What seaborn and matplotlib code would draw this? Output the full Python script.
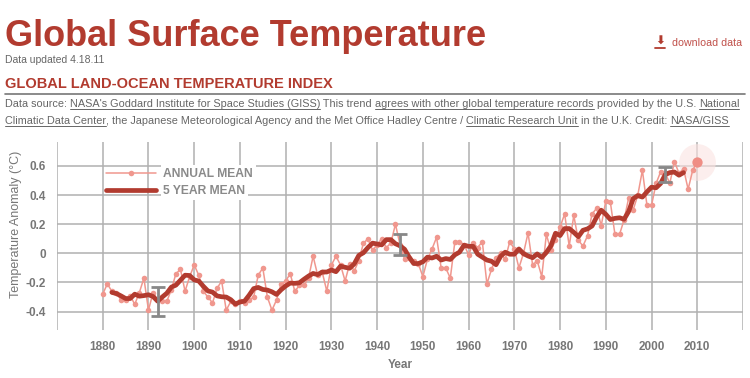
import numpy as np
import pandas as pd
import seaborn as sns
import matplotlib.pyplot as plt

# GISS land-ocean index, annual mean anomaly (deg C)
years = list(range(1880, 2011))
annual_mean = [
    -0.28, -0.21, -0.26, -0.27, -0.32, -0.32, -0.29, -0.35, -0.27, -0.17,
    -0.39, -0.27, -0.32, -0.33, -0.33, -0.25, -0.14, -0.11, -0.26, -0.16,
    -0.08, -0.15, -0.26, -0.30, -0.34, -0.24, -0.19, -0.39, -0.33, -0.35,
    -0.33, -0.34, -0.32, -0.30, -0.15, -0.10, -0.30, -0.39, -0.32, -0.21,
    -0.19, -0.14, -0.26, -0.22, -0.22, -0.17, -0.02, -0.15, -0.13, -0.26,
    -0.08, -0.02, -0.08, -0.19, -0.07, -0.12, -0.05, 0.07, 0.10, 0.02,
    0.06, 0.10, 0.04, 0.07, 0.20, 0.06, -0.04, -0.03, -0.05, -0.07,
    -0.16, -0.04, 0.03, 0.11, -0.10, -0.10, -0.17, 0.08, 0.08, 0.06,
    -0.01, 0.07, 0.04, 0.08, -0.21, -0.11, -0.03, 0.00, -0.04, 0.08,
    0.03, -0.10, 0.00, 0.14, -0.08, -0.05, -0.16, 0.13, 0.02, 0.09,
    0.18, 0.27, 0.05, 0.26, 0.09, 0.05, 0.12, 0.27, 0.31, 0.19,
    0.36, 0.35, 0.13, 0.13, 0.23, 0.38, 0.30, 0.40, 0.57, 0.33,
    0.33, 0.48, 0.56, 0.55, 0.48, 0.63, 0.55, 0.58, 0.44, 0.57,
    0.63,
]

# 5 year mean, 1882-2007
smooth_years = list(range(1882, 2008))
five_year_mean = [
    -0.268, -0.276, -0.292, -0.310, -0.310, -0.280, -0.294, -0.290,
    -0.284, -0.296, -0.328, -0.300, -0.274, -0.232, -0.218, -0.184, -0.150, -0.152,
    -0.182, -0.190, -0.226, -0.258, -0.266, -0.292, -0.298, -0.300, -0.318, -0.348,
    -0.334, -0.328, -0.288, -0.242, -0.234, -0.248, -0.252, -0.264, -0.282, -0.250,
    -0.224, -0.204, -0.206, -0.202, -0.178, -0.156, -0.138, -0.146, -0.128, -0.128,
    -0.114, -0.126, -0.088, -0.096, -0.102, -0.072, -0.014, 0.004, 0.040, 0.070,
    0.064, 0.058, 0.094, 0.094, 0.066, 0.052, 0.028, -0.026, -0.070, -0.070,
    -0.058, -0.026, -0.032, -0.020, -0.046, -0.036, -0.042, -0.010, 0.008, 0.056,
    0.048, 0.048, -0.006, -0.026, -0.046, -0.054, -0.078, -0.020, 0.008, -0.006,
    -0.006, 0.030, -0.002, -0.018, -0.030, -0.004, -0.028, 0.006, 0.052, 0.138,
    0.122, 0.170, 0.170, 0.144, 0.114, 0.158, 0.168, 0.188, 0.250, 0.296,
    0.268, 0.232, 0.240, 0.244, 0.234, 0.288, 0.376, 0.396, 0.386, 0.422,
    0.454, 0.450, 0.480, 0.540, 0.554, 0.558, 0.536, 0.554,
]

# uncertainty bars
err_years = [1892, 1945, 2003]
err_low = [-0.43, -0.01, 0.49]
err_high = [-0.23, 0.13, 0.59]

x_ticks = list(range(1870, 2030, 10))
y_ticks = [-0.4, -0.2, 0, 0.2, 0.4, 0.6]

RED = "#b23b2f"
PINK = "#f0978e"
GRAY = "#777777"

sns.set_theme(style="white")
plt.rcParams["font.family"] = ["Liberation Sans", "DejaVu Sans"]

annual = pd.DataFrame({"Year": years, "Anomaly": annual_mean})
smooth = pd.DataFrame({"Year": smooth_years, "Anomaly": five_year_mean})

fig = plt.figure(figsize=(7.5, 3.78), dpi=100)
ax = fig.add_axes([57 / 750, 1 - 330 / 378, 686 / 750, 188 / 378])

sns.lineplot(data=annual, x="Year", y="Anomaly", ax=ax, color=PINK, lw=1.1,
             marker="o", markersize=4, markeredgewidth=0, label="ANNUAL MEAN", zorder=3)
sns.lineplot(data=smooth, x="Year", y="Anomaly", ax=ax, color=RED, lw=3.4,
             label="5 YEAR MEAN", zorder=4)

# last year highlighted
last = annual.tail(1)
sns.scatterplot(data=last, x="Year", y="Anomaly", ax=ax, s=700, color="#fbe3e1",
                alpha=0.6, linewidth=0, legend=False, zorder=2)
sns.scatterplot(data=last, x="Year", y="Anomaly", ax=ax, s=55, color="#ef8e85",
                linewidth=0, legend=False, zorder=5)

mid = [(a + b) / 2 for a, b in zip(err_low, err_high)]
half = [(b - a) / 2 for a, b in zip(err_low, err_high)]
ax.errorbar(err_years, mid, yerr=half, fmt="none", ecolor="#888888",
            elinewidth=2, capsize=5, capthick=2, zorder=6)

ax.set_xlim(1870, 2020)
ax.set_ylim(-0.526, 0.764)
ax.set_xticks(x_ticks)
ax.set_xticklabels(["" if y in (1870, 2020) else str(y) for y in x_ticks])
ax.set_yticks(y_ticks)
ax.set_yticklabels(["-0.4", "-0.2", "0", "0.2", "0.4", "0.6"])
ax.grid(True, color="#b0b0b0", lw=1.1)
for s in ax.spines.values():
    s.set_visible(False)
ax.tick_params(length=0, labelsize=8.5, labelcolor=GRAY, pad=8)
for lab in ax.get_xticklabels() + ax.get_yticklabels():
    lab.set_fontweight("bold")
ax.set_xlabel("Year", fontsize=8.5, color=GRAY, fontweight="bold", labelpad=4)
ax.set_ylabel("Temperature Anomaly (°C)", fontsize=9, color=GRAY)
ax.yaxis.set_label_coords((22 - 57) / 686, (330 - 224) / 188)

leg = ax.legend(loc="upper left", bbox_to_anchor=(100 / 750, 1 - 162 / 378),
                bbox_transform=fig.transFigure, frameon=False, handlelength=4.1,
                handletextpad=0.65, labelspacing=0.4, borderpad=0, fontsize=8.7)
for t in leg.get_texts():
    t.set_color("#8a8a8a")
    t.set_fontweight("bold")
    t.set_bbox(dict(facecolor="white", edgecolor="none", pad=2))

# page header
fig.text(5 / 750, 1 - 46 / 378, "Global Surface Temperature", fontsize=26,
         fontweight="bold", color=RED, va="baseline")
fig.text(5 / 750, 1 - 63 / 378, "Data updated 4.18.11", fontsize=7.5,
         color="#666666", va="baseline")
fig.text(672 / 750, 1 - 46 / 378, "download data", fontsize=7.7, color="#c0504a",
         va="baseline")
fig.text(660 / 750, 1 - 45 / 378, "⬇", fontsize=8.5, color=RED, va="baseline",
         ha="center", family="DejaVu Sans", fontweight="bold")
fig.add_artist(plt.Line2D([655 / 750, 665 / 750], [1 - 48 / 378] * 2,
                          color=RED, lw=1.3))
fig.text(5 / 750, 1 - 88 / 378, "GLOBAL LAND-OCEAN TEMPERATURE INDEX", fontsize=10.5,
         fontweight="bold", color=RED, va="baseline")
fig.add_artist(plt.Line2D([5 / 750, 745 / 750], [1 - 93.5 / 378] * 2,
                          color="#777777", lw=1.2))

renderer = fig.canvas.get_renderer()


def write_line(x, y, pieces):
    # draw text pieces one after another, underline the links
    for txt, link in pieces:
        t = fig.text(x / 750, 1 - y / 378, txt, fontsize=7.8, color="#666666",
                     va="baseline")
        bb = t.get_window_extent(renderer)
        if link:
            fig.add_artist(plt.Line2D([x / 750, (x + bb.width) / 750],
                                      [1 - (y + 2) / 378] * 2, color="#666666", lw=0.7))
        x += bb.width


write_line(5, 107, [("Data source: ", False),
                    ("NASA's Goddard Institute for Space Studies (GISS)", True),
                    (" This trend ", False),
                    ("agrees with other global temperature records", True),
                    (" provided by the U.S. ", False),
                    ("National", True)])
write_line(5, 124, [("Climatic Data Center", True),
                    (", the Japanese Meteorological Agency and the Met Office Hadley Centre / ", False),
                    ("Climatic Research Unit", True),
                    (" in the U.K. Credit: ", False),
                    ("NASA/GISS", True)])

fig.savefig("out.png", dpi=100)
